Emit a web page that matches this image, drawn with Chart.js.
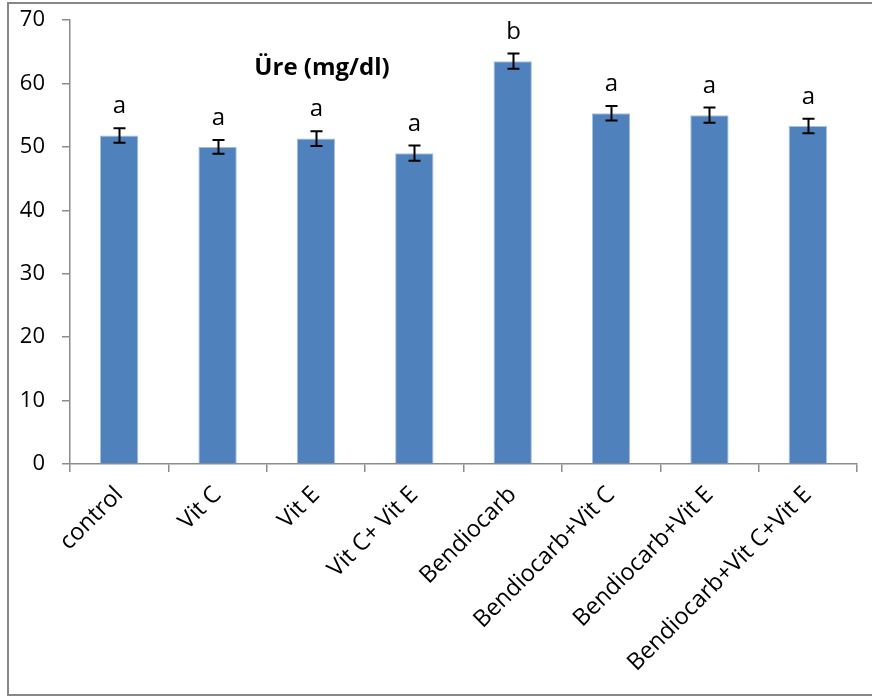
<!DOCTYPE html>
<html>
<head>
<meta charset="utf-8">
<script src="https://cdn.jsdelivr.net/npm/chart.js@4"></script>
<style>
  html, body { margin: 0; padding: 0; background: #fff; }
  #wrap { position: relative; width: 872px; height: 697px; overflow: hidden; }
  #frame { position: absolute; left: 7px; top: 2px; width: 1000px; height: 694px; box-sizing: border-box; border: 2px solid #878787; }
  canvas { position: absolute; left: 0; top: 0; }
</style>
</head>
<body>
<div id="wrap">
  <div id="frame"></div>
  <canvas id="c" width="872" height="697"></canvas>
</div>
<script>
const categories = ["control", "Vit C", "Vit E", "Vit C+ Vit E", "Bendiocarb", "Bendiocarb+Vit C", "Bendiocarb+Vit E", "Bendiocarb+Vit C+Vit E"];
const ureValues = [51.8, 50.0, 51.3, 49.0, 63.5, 55.3, 55.0, 53.3];
const ureErrors = [1.15, 1.1, 1.15, 1.2, 1.2, 1.15, 1.2, 1.15];
const groupLetters = ["a", "a", "a", "a", "b", "a", "a", "a"];
const chartTitle = "Üre (mg/dl)";
const yTicks = [0, 10, 20, 30, 40, 50, 60, 70];

const FONT = "'Open Sans', 'DejaVu Sans', sans-serif";
const AXIS_COLOR = '#8c8c8c';

const overlay = {
  id: 'overlay',
  afterDatasetsDraw(chart) {
    const ctx = chart.ctx;
    const meta = chart.getDatasetMeta(0);
    const ys = chart.scales.y;
    ctx.save();
    ctx.strokeStyle = '#000';
    ctx.lineWidth = 2;
    meta.data.forEach((bar, i) => {
      const x = Math.round(bar.x) + 0.5;
      const yt = ys.getPixelForValue(ureValues[i] + ureErrors[i]);
      const yb = ys.getPixelForValue(ureValues[i] - ureErrors[i]);
      ctx.beginPath();
      ctx.moveTo(x, yt); ctx.lineTo(x, yb);
      ctx.moveTo(x - 6, yt); ctx.lineTo(x + 6, yt);
      ctx.moveTo(x - 6, yb); ctx.lineTo(x + 6, yb);
      ctx.stroke();
      ctx.fillStyle = '#000';
      ctx.font = "24px " + FONT;
      ctx.textAlign = 'center';
      ctx.textBaseline = 'alphabetic';
      ctx.fillText(groupLetters[i], x, yt - 15);
    });
    const ca = chart.chartArea;
    ctx.font = "bold 24px " + FONT;
    ctx.textAlign = 'center';
    ctx.textBaseline = 'middle';
    ctx.fillText(chartTitle, ca.left + 252, ca.top + 48);
    ctx.restore();
  }
};

new Chart(document.getElementById('c'), {
  type: 'bar',
  data: {
    labels: categories,
    datasets: [{
      data: ureValues,
      backgroundColor: '#4f81bd',
      borderColor: '#a9c0de',
      borderWidth: { left: 1, right: 1, top: 1, bottom: 0 },
      borderSkipped: 'bottom',
      categoryPercentage: 1.0,
      barPercentage: 0.39
    }]
  },
  options: {
    responsive: false,
    animation: false,
    devicePixelRatio: 1,
    layout: { padding: { top: 20, right: 15, left: 0, bottom: 0 } },
    plugins: { legend: { display: false }, tooltip: { enabled: false }, title: { display: false } },
    scales: {
      x: {
        offset: true,
        grid: { offset: true, drawOnChartArea: false, drawTicks: true, tickLength: 8, color: AXIS_COLOR, lineWidth: 1.5 },
        border: { color: AXIS_COLOR, width: 1.5 },
        ticks: { minRotation: 45, maxRotation: 45, autoSkip: false, color: '#000', font: { family: FONT, size: 23.5 }, padding: 9 },
        afterFit(s) { s.height = 233; s.paddingTop = 0; s.paddingLeft = 0; s.paddingRight = 0; }
      },
      y: {
        min: 0, max: 70,
        afterBuildTicks(s) { s.ticks = yTicks.map(v => ({ value: v })); },
        grid: { drawOnChartArea: false, drawTicks: true, tickLength: 8, color: AXIS_COLOR, lineWidth: 1.5 },
        border: { color: AXIS_COLOR, width: 1.5 },
        ticks: { color: '#000', font: { family: FONT, size: 22 }, padding: 17 },
        afterFit(s) { s.width = 70; s.paddingTop = 0; s.paddingBottom = 0; }
      }
    }
  },
  plugins: [overlay]
});
</script>
</body>
</html>
